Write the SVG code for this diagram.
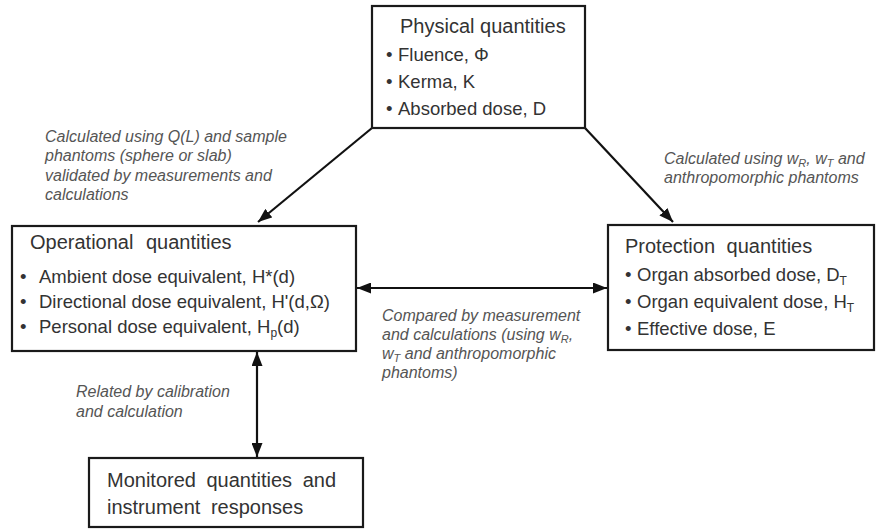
<svg xmlns="http://www.w3.org/2000/svg" width="877" height="529" viewBox="0 0 877 529">
<defs>
<marker id="ah" viewBox="0 0 14 11" refX="14" refY="5.5" markerWidth="14" markerHeight="11" markerUnits="userSpaceOnUse" orient="auto-start-reverse">
<path d="M0,0 L14,5.5 L0,11 z" fill="#111"/>
</marker>
<style>
.box{fill:#fff;stroke:#1a1a1a;stroke-width:2.2}
.title{font-family:"Liberation Sans",Arial,sans-serif;font-size:20px;fill:#333}
.item{font-family:"Liberation Sans",Arial,sans-serif;font-size:18.5px;fill:#333}
.lbl{font-family:"Liberation Sans",Arial,sans-serif;font-size:16px;font-style:italic;fill:#555}
.conn{stroke:#111;stroke-width:2.2;fill:none}
</style>
</defs>
<rect width="877" height="529" fill="#fff"/>
<g id="connectors">
<line class="conn" x1="372" y1="128" x2="258" y2="222" marker-end="url(#ah)"/>
<line class="conn" x1="585" y1="128" x2="673" y2="222" marker-end="url(#ah)"/>
<line class="conn" x1="357" y1="288" x2="607" y2="288" marker-start="url(#ah)" marker-end="url(#ah)"/>
<line class="conn" x1="257" y1="352" x2="257" y2="457" marker-start="url(#ah)" marker-end="url(#ah)"/>
</g>
<g id="physical">
<rect class="box" x="372" y="6" width="213" height="122"/>
<text class="title" x="400" y="33">Physical quantities</text>
<text class="item" y="61"><tspan x="386">•</tspan><tspan x="398">Fluence, Φ</tspan></text>
<text class="item" y="88"><tspan x="386">•</tspan><tspan x="398">Kerma, K</tspan></text>
<text class="item" y="115"><tspan x="386">•</tspan><tspan x="398">Absorbed dose, D</tspan></text>
</g>
<g id="operational">
<rect class="box" x="12" y="226" width="344" height="125"/>
<text class="title" x="30" y="249" word-spacing="7">Operational quantities</text>
<text class="item" y="283"><tspan x="20">•</tspan><tspan x="39">Ambient dose equivalent, H*(d)</tspan></text>
<text class="item" y="308"><tspan x="20">•</tspan><tspan x="39">Directional dose equivalent, H'(d,Ω)</tspan></text>
<text class="item" y="333"><tspan x="20">•</tspan><tspan x="39">Personal dose equivalent, H</tspan><tspan dy="4" font-size="12">p</tspan><tspan dy="-4">(d)</tspan></text>
</g>
<g id="protection">
<rect class="box" x="608" y="225" width="266" height="125"/>
<text class="title" x="625" y="253" word-spacing="6">Protection quantities</text>
<text class="item" y="281"><tspan x="625">•</tspan><tspan x="637">Organ absorbed dose, D</tspan><tspan dy="4" font-size="12">T</tspan></text>
<text class="item" y="308"><tspan x="625">•</tspan><tspan x="637">Organ equivalent dose, H</tspan><tspan dy="4" font-size="12">T</tspan></text>
<text class="item" y="335"><tspan x="625">•</tspan><tspan x="637">Effective dose, E</tspan></text>
</g>
<g id="monitored">
<rect class="box" x="89" y="458" width="274" height="69"/>
<text class="title" x="107" y="487" word-spacing="5">Monitored quantities and</text>
<text class="title" x="107" y="514" word-spacing="5">instrument responses</text>
</g>
<g id="labels">
<text class="lbl"><tspan x="45" y="142">Calculated using Q(L) and sample</tspan><tspan x="45" y="161">phantoms (sphere or slab)</tspan><tspan x="45" y="181">validated by measurements and</tspan><tspan x="45" y="200">calculations</tspan></text>
<text class="lbl"><tspan x="664" y="164">Calculated using w</tspan><tspan dy="3" font-size="11">R</tspan><tspan dy="-3">, w</tspan><tspan dy="3" font-size="11">T</tspan><tspan dy="-3"> and</tspan><tspan x="664" y="183">anthropomorphic phantoms</tspan></text>
<text class="lbl"><tspan x="382" y="321">Compared by measurement</tspan><tspan x="382" y="340">and calculations (using w</tspan><tspan dy="3" font-size="11">R</tspan><tspan dy="-3">,</tspan><tspan x="382" y="359">w</tspan><tspan dy="3" font-size="11">T</tspan><tspan dy="-3"> and anthropomorphic</tspan><tspan x="382" y="378">phantoms)</tspan></text>
<text class="lbl"><tspan x="76" y="397">Related by calibration</tspan><tspan x="76" y="417">and calculation</tspan></text>
</g>
</svg>
